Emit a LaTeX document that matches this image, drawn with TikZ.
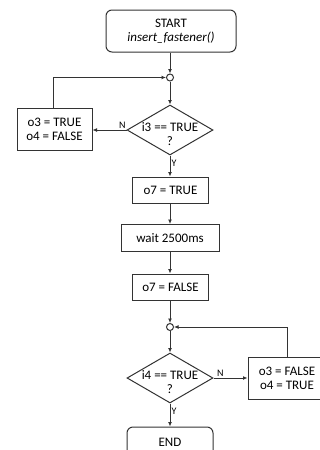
\documentclass[tikz,border=0pt]{standalone}
\usepackage{fontspec}
\setmainfont{Carlito}
\usetikzlibrary{arrows.meta,shapes.geometric}

\begin{document}
\begin{tikzpicture}[x=1pt,y=-1pt,
  font=\fontsize{13}{14}\selectfont,
  line/.style={draw=black!80,line width=1pt},
  flow/.style={line,arrows={-Latex[length=4.5pt,width=4pt]}},
  terminal/.style={line,rounded corners=6pt,inner sep=0pt,align=center},
  action/.style={line,inner sep=0pt,align=center},
  decision/.style={line,diamond,inner sep=0pt,minimum width=86pt,minimum height=50pt},
  junction/.style={line,circle,inner sep=0pt,minimum size=7pt,fill=white},
  tag/.style={font=\fontsize{10}{11}\selectfont,inner sep=1pt}]
\useasboundingbox (0,0) rectangle (320,450);
\clip (0,0) rectangle (320,450);
% start and first wait loop
\node[terminal,minimum width=130pt,minimum height=42pt] (start) at (171,31) {START\\\textit{insert\_fastener()}};
\node[junction] (j1) at (170,77.5) {};
\node[decision] (dec1) at (170,130) {};
\node[align=center,inner sep=0pt] (dec1txt) at (170,134) {i3 == TRUE\\?};
\node[action,minimum width=75pt,minimum height=42pt] (set1) at (54.5,129) {o3 = TRUE\\o4 = FALSE};
\draw[flow] (start.south -| j1) -- (j1.north);
\draw[flow] (j1.south) -- (dec1.north);
\draw[flow] (dec1.west) -- (dec1.west -| set1.east) node[tag,pos=0.12,above] {N};
\draw[flow] (set1.north -| 53,0) |- (j1.west);
% output sequence
\node[action,minimum width=76pt,minimum height=26pt] (on7) at (170.5,190) {o7 = TRUE};
\node[action,minimum width=98pt,minimum height=27pt] (wait) at (170,238) {wait 2500ms};
\node[action,minimum width=76pt,minimum height=26pt] (off7) at (170.5,287) {o7 = FALSE};
\draw[flow] (dec1.south) -- (on7.north -| dec1) node[tag,pos=0.35,right] {Y};
\draw[flow] (on7.south -| dec1) -- (wait.north -| dec1);
\draw[flow] (wait.south -| dec1) -- (off7.north -| dec1);
% second wait loop and end
\node[junction] (j2) at (170,327) {};
\node[decision] (dec2) at (170,378) {};
\node[align=center,inner sep=0pt] (dec2txt) at (170,382) {i4 == TRUE\\?};
\node[action,minimum width=78pt,minimum height=42pt] (set2) at (287,378) {o3 = FALSE\\o4 = TRUE};
\node[terminal,minimum width=86pt,minimum height=30pt] (stop) at (170,442) {END};
\draw[flow] (off7.south -| j2) -- (j2.north);
\draw[flow] (j2.south) -- (dec2.north);
\draw[flow] (dec2.east) -- (set2.west) node[tag,pos=0.2,above] {N};
\draw[flow] (set2.north) |- (j2.east);
\draw[flow] (dec2.south) -- (stop.north) node[tag,pos=0.35,right] {Y};
\end{tikzpicture}
\end{document}
